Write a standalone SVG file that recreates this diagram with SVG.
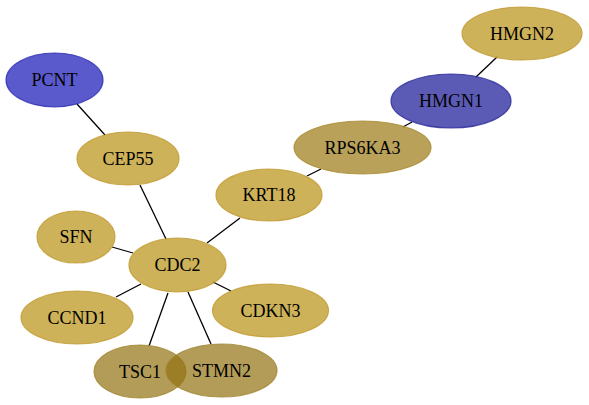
<svg xmlns="http://www.w3.org/2000/svg" width="589" height="405" viewBox="0 0 589 405">
<style>
.e{stroke:#000;stroke-width:1.3;fill:none}
.g{fill:#b99113;fill-opacity:0.7;stroke:#c09a30;stroke-opacity:0.8;stroke-width:1.2}
.d{fill:#917211;fill-opacity:0.7;stroke:#a08430;stroke-opacity:0.8;stroke-width:1.2}
.r{fill:#9b7913;fill-opacity:0.7;stroke:#a88a30;stroke-opacity:0.8;stroke-width:1.2}
.b1{fill:#1414b8;fill-opacity:0.7;stroke:#2a2ab0;stroke-opacity:0.8;stroke-width:1.2}
.b2{fill:#151595;fill-opacity:0.7;stroke:#252598;stroke-opacity:0.8;stroke-width:1.2}
text{font-family:"Liberation Serif","Times New Roman",serif;font-size:18px;text-anchor:middle;fill:#000}
</style>
<rect width="589" height="405" fill="#fff"/>
<g id="edges">
<line class="e" x1="77" y1="104" x2="105" y2="135"/>
<line class="e" x1="140" y1="185" x2="166" y2="239"/>
<line class="e" x1="307" y1="176" x2="321" y2="169"/>
<line class="e" x1="403" y1="127" x2="412" y2="122"/>
<line class="e" x1="476" y1="77" x2="497" y2="57"/>
<line class="e" x1="207" y1="243" x2="240" y2="218"/>
<line class="e" x1="112" y1="247" x2="133" y2="253"/>
<line class="e" x1="141" y1="284" x2="116" y2="297"/>
<line class="e" x1="213" y1="282" x2="231" y2="291"/>
<line class="e" x1="168" y1="293" x2="149" y2="346"/>
<line class="e" x1="188" y1="292" x2="211" y2="344"/>
</g>
<g id="PCNT"><ellipse class="b1" cx="54.5" cy="80" rx="48.5" ry="27"/><text x="54.5" y="86">PCNT</text></g>
<g id="CEP55"><ellipse class="g" cx="128" cy="158.5" rx="51" ry="26.5"/><text x="128" y="164.5">CEP55</text></g>
<g id="HMGN2"><ellipse class="g" cx="522" cy="33.5" rx="60" ry="26.5"/><text x="522" y="39.5">HMGN2</text></g>
<g id="HMGN1"><ellipse class="b2" cx="451" cy="101" rx="60" ry="27"/><text x="451" y="107">HMGN1</text></g>
<g id="RPS6KA3"><ellipse class="r" cx="362.5" cy="147.5" rx="68.5" ry="26.5"/><text x="362.5" y="153.5">RPS6KA3</text></g>
<g id="KRT18"><ellipse class="g" cx="269" cy="195" rx="53" ry="26"/><text x="269" y="201">KRT18</text></g>
<g id="SFN"><ellipse class="g" cx="76" cy="237" rx="39" ry="26"/><text x="76" y="243">SFN</text></g>
<g id="CDC2"><ellipse class="g" cx="177.5" cy="265" rx="48.5" ry="27"/><text x="177.5" y="271">CDC2</text></g>
<g id="CCND1"><ellipse class="g" cx="77" cy="317.5" rx="56" ry="26.5"/><text x="77" y="323.5">CCND1</text></g>
<g id="CDKN3"><ellipse class="g" cx="270.5" cy="310.5" rx="58" ry="26.5"/><text x="270.5" y="316.5">CDKN3</text></g>
<g id="TSC1"><ellipse class="d" cx="140" cy="371.5" rx="46" ry="26.5"/><text x="140" y="377.5">TSC1</text></g>
<g id="STMN2"><ellipse class="d" cx="221.5" cy="370.5" rx="55.5" ry="26.5"/><text x="221.5" y="376.5">STMN2</text></g>
</svg>
